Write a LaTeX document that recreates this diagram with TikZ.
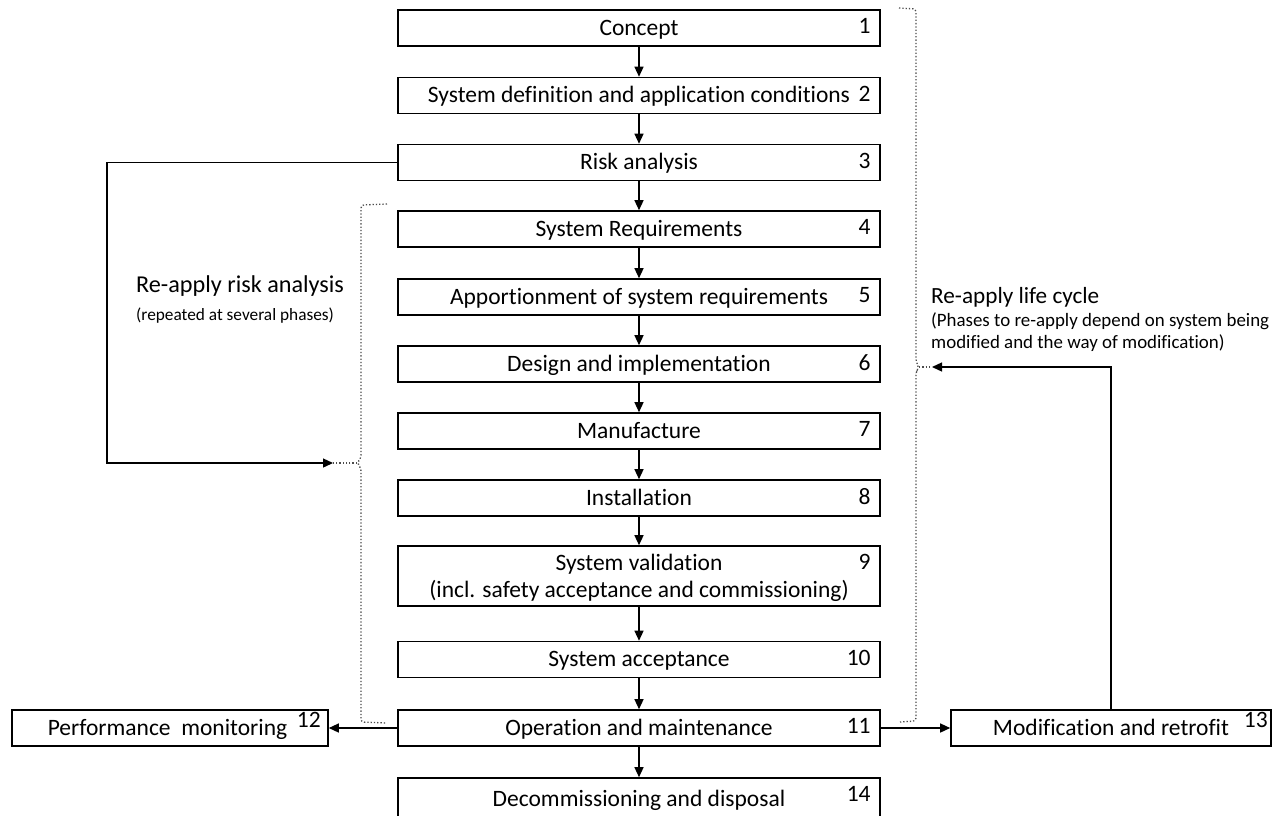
\documentclass[tikz,border=0pt]{standalone}
\usepackage{fontspec}
\setmainfont{Carlito}[Ligatures={NoCommon}]
\usetikzlibrary{arrows.meta}
\begin{document}
\begin{tikzpicture}[x=1pt,y=-1pt,
  box/.style={draw, line width=1.6pt, minimum width=482pt, minimum height=36pt,
    inner sep=0pt, font=\fontsize{23.5}{27}\selectfont, align=center,
    text height=17.6pt, text depth=3.5pt},
  sidebox/.style={box, minimum width=316pt},
  num/.style={anchor=north east, inner sep=0pt, font=\fontsize{23.5}{27}\selectfont},
  arr/.style={line width=1.3pt, -{Triangle[length=10pt,width=9pt]}},
  brk/.style={line width=1.3pt, dotted, black!70, rounded corners=3pt},
  lbl/.style={inner sep=0pt, anchor=west}]
\useasboundingbox (0,0) rectangle (1282,815);
\clip (0,0) rectangle (1282,815);

% main phase boxes
\node[box] (b1) at (639,28) {Concept};
\node[box] (b2) at (639,95.5) {System definition and application conditions};
\node[box] (b3) at (639,162.5) {Risk analysis};
\node[box] (b4) at (639,229) {System Requirements};
\node[box] (b5) at (639,297) {Apportionment of system requirements};
\node[box] (b6) at (639,364) {Design and implementation};
\node[box] (b7) at (639,431) {Manufacture};
\node[box] (b8) at (639,498) {Installation};
\node[box, minimum height=60pt, text height={}, text depth=0.8pt] (b9) at (639,576)
  {System validation\\(incl. safety acceptance and commissioning)};
\node[box] (b10) at (639,659.5) {System acceptance};
\node[box] (b11) at (639,728) {Operation and maintenance};
\node[box, minimum height=42pt] (b14) at (639,799) {Decommissioning and disposal};
\node[sidebox] (b12) at (170,728) {Performance\ \ monitoring\hspace*{5pt}};
\node[sidebox, minimum width=320pt] (b13) at (1111,728) {Modification and retrofit};

% phase numbers
\foreach \b/\n in {b1/1,b2/2,b3/3,b4/4,b5/5,b6/6,b7/7,b8/8,b9/9,b10/10,b11/11,b14/14}
  \node[num] at ([xshift=-10pt,yshift=-9pt]\b.north east) {\n};
\node[num] (n12) at (321,712) {12};
\node[num] (n13) at (1268,712) {13};

% sequence arrows
\foreach \a/\b in {b1/b2,b2/b3,b3/b4,b4/b5,b5/b6,b6/b7,b7/b8,b8/b9,b9/b10,b10/b11,b11/b14}
  \draw[arr] (\a.south) -- (\b.north);
\draw[arr] (b11.west) -- (b12.east);
\draw[arr] (b11.east) -- (b13.west);

% re-apply risk analysis loop
\coordinate (lt) at (333,463);
\coordinate (lk) at (357,463);
\draw[arr] (b3.west) -- (107,162.5) |- (lt);
\draw[brk] (387,204) -- (361,205) -- (361,458) -- (lk) -- (361,468) -- (361,722) -- (387,723);
\draw[line width=1.3pt, dotted, black!70] (lk) -- (lt);

% re-apply life cycle loop
\coordinate (rt) at (932,367);
\coordinate (rk) at (919,367);
\draw[arr] (b13.north) |- (rt);
\draw[brk] (899,8) -- (916,9) -- (916,362) -- (rk) -- (916,372) -- (916,721) -- (900,722);
\draw[line width=1.3pt, dotted, black!70] (rk) -- (rt);

% labels
\node[lbl, font=\fontsize{24.2}{28}\selectfont] (la) at (136,286) {Re-apply risk analysis};
\node[lbl, font=\fontsize{17.3}{20}\selectfont] (lb) at (136,316) {(repeated at several phases)};
\node[lbl, font=\fontsize{23.2}{27}\selectfont] (ra) at (931,297) {Re-apply life cycle};
\node[lbl, align=left, anchor=north west, font=\fontsize{18.9}{22}\selectfont] (rb) at (931,312)
  {(Phases to re-apply depend on system being\\modified and the way of modification)};
\end{tikzpicture}
\end{document}
